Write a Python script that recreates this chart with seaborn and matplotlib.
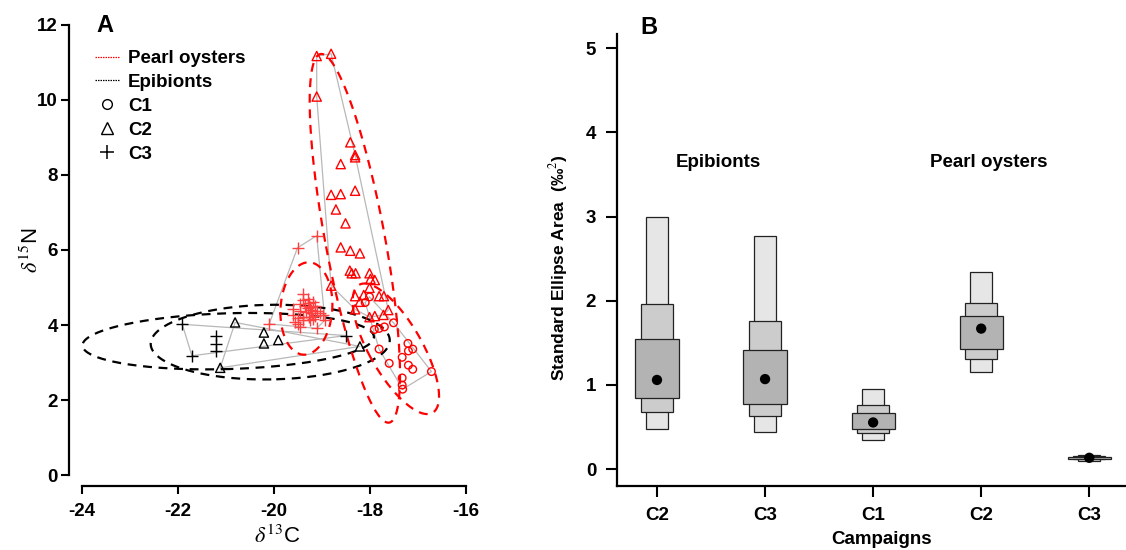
import numpy as np
import matplotlib
matplotlib.use("Agg")
import matplotlib.pyplot as plt
from matplotlib.lines import Line2D
import seaborn as sns

# ---- panel A : isotopic values (d13C, d15N) ----
ep_c2_x = [-20.81, -21.12, -18.21, -20.21, -20.21, -19.91]
ep_c2_y = [4.07, 2.86, 3.43, 3.80, 3.51, 3.60]

ep_c3_x = [-21.91, -21.71, -21.20, -21.20, -21.20, -18.50]
ep_c3_y = [4.02, 3.18, 3.70, 3.50, 3.30, 3.72]

po_c1_x = [-18.01, -18.10, -17.51, -17.91, -17.81, -17.70, -17.81, -17.60, -17.21,
           -17.11, -17.20, -17.33, -17.20, -17.11, -17.33, -17.33, -17.32, -16.72]
po_c1_y = [4.75, 4.60, 4.06, 3.88, 3.91, 3.95, 3.36, 2.98, 3.51,
           3.36, 3.31, 3.14, 2.93, 2.82, 2.59, 2.40, 2.29, 2.76]

po_c2_x = [-19.11, -18.81, -19.11, -18.41, -18.31, -18.31, -18.61, -18.31, -18.81,
           -18.61, -18.71, -18.51, -18.61, -18.41, -18.21, -18.42, -18.38, -18.30,
           -18.01, -17.99, -17.90, -18.01, -18.81, -18.31, -18.13, -17.81, -17.71,
           -18.21, -18.31, -17.62, -17.72, -18.01, -17.90]
po_c2_y = [11.17, 11.23, 10.09, 8.87, 8.53, 8.47, 8.29, 7.58, 7.47,
           7.49, 7.08, 6.71, 6.07, 5.98, 5.91, 5.45, 5.38, 5.38,
           5.38, 5.23, 5.20, 4.99, 5.05, 4.77, 4.80, 4.77, 4.77,
           4.62, 4.42, 4.40, 4.27, 4.21, 4.24]

po_c3_x = [-19.11, -19.51, -20.10, -19.11, -18.97, -19.40, -19.40, -19.30, -19.19,
           -19.28, -19.35, -19.25, -19.15, -19.60, -19.46, -19.33, -19.21, -19.10,
           -19.04, -19.60, -19.49, -19.39, -19.28, -19.18, -19.15, -19.51, -19.56,
           -19.39, -19.25, -19.46, -18.94, -19.30, -19.22, -19.45]
po_c3_y = [6.38, 6.06, 4.03, 3.91, 4.27, 4.84, 4.67, 4.69, 4.62,
           4.58, 4.51, 4.49, 4.50, 4.44, 4.38, 4.36, 4.33, 4.38,
           4.33, 4.27, 4.20, 4.22, 4.21, 4.17, 4.25, 4.04, 4.09,
           4.13, 4.13, 3.96, 4.13, 4.45, 4.41, 4.55]

# ---- panel B : standard ellipse area, posterior intervals ----
campaigns = ["C2", "C3", "C1", "C2", "C3"]
groups = ["Epibionts", "Epibionts", "Pearl oysters", "Pearl oysters", "Pearl oysters"]
sea_mode = [1.06, 1.07, 0.555, 1.67, 0.135]
ci95_lo = [0.48, 0.44, 0.35, 1.16, 0.10]
ci95_hi = [3.00, 2.77, 0.95, 2.34, 0.17]
ci75_lo = [0.68, 0.63, 0.43, 1.31, 0.115]
ci75_hi = [1.96, 1.76, 0.76, 1.98, 0.155]
ci50_lo = [0.85, 0.78, 0.48, 1.43, 0.125]
ci50_hi = [1.55, 1.41, 0.67, 1.82, 0.145]


def convex_hull(xs, ys):
    pts = sorted(set(zip(xs, ys)))

    def cross(o, a, b):
        return (a[0] - o[0]) * (b[1] - o[1]) - (a[1] - o[1]) * (b[0] - o[0])

    lower, upper = [], []
    for p in pts:
        while len(lower) >= 2 and cross(lower[-2], lower[-1], p) <= 0:
            lower.pop()
        lower.append(p)
    for p in reversed(pts):
        while len(upper) >= 2 and cross(upper[-2], upper[-1], p) <= 0:
            upper.pop()
        upper.append(p)
    h = lower[:-1] + upper[:-1]
    h.append(h[0])
    return np.array(h)


def ellipse95(xs, ys, n=300):
    # 95% prediction ellipse from the sample covariance
    xy = np.column_stack([xs, ys])
    mu = xy.mean(axis=0)
    vals, vecs = np.linalg.eigh(np.cov(xy, rowvar=False))
    t = np.linspace(0, 2 * np.pi, n)
    circ = np.column_stack([np.cos(t), np.sin(t)]) * np.sqrt(vals) * np.sqrt(5.991)
    return mu + circ @ vecs.T


sns.set_style("ticks")
plt.rcParams["font.family"] = ["Liberation Sans", "DejaVu Sans"]
plt.rcParams["mathtext.fontset"] = "stix"
plt.rcParams["axes.unicode_minus"] = False
for k in ["text.color", "axes.labelcolor", "xtick.color", "ytick.color", "axes.edgecolor"]:
    plt.rcParams[k] = "black"
narrow = ["Liberation Sans Narrow", "DejaVu Sans Condensed", "Liberation Sans"]

fig = plt.figure(figsize=(11.26, 5.5), dpi=100)
W, H = 1126, 550
axA = fig.add_axes([69 / W, 1 - 486 / H, (478 - 69) / W, (486 - 14) / H])
axB = fig.add_axes([617 / W, 1 - 486 / H, (1126 - 617) / W, (486 - 34) / H])

# ---------- panel A ----------
sets = [
    (ep_c2_x, ep_c2_y, "black", "^"),
    (ep_c3_x, ep_c3_y, "black", "+"),
    (po_c1_x, po_c1_y, "red", "o"),
    (po_c2_x, po_c2_y, "red", "^"),
    (po_c3_x, po_c3_y, "#ff4040", "+"),
]

for xs, ys, col, m in sets:
    h = convex_hull(xs, ys)
    axA.plot(h[:, 0], h[:, 1], color="#b8b8b8", lw=0.9, zorder=1)

for xs, ys, col, m in sets:
    e = ellipse95(xs, ys)
    ecol = "red" if col != "black" else "black"
    axA.plot(e[:, 0], e[:, 1], color=ecol, lw=1.6, ls=(0, (4, 3)), zorder=2)

for xs, ys, col, m in sets:
    if m == "+":
        sns.scatterplot(x=xs, y=ys, marker="+", color=col, s=65, linewidth=1.0,
                        ax=axA, zorder=3)
    else:
        sz = 44 if m == "^" else 30
        sns.scatterplot(x=xs, y=ys, marker=m, facecolor="none", edgecolor=col,
                        color=col, s=sz, linewidth=1.0, ax=axA, zorder=3)

axA.set_xlim(-24.27, -15.75)
axA.set_ylim(-0.29, 12.29)
axA.set_xticks([-24, -22, -20, -18, -16])
axA.set_yticks([0, 2, 4, 6, 8, 10, 12])
axA.spines["top"].set_visible(False)
axA.spines["right"].set_visible(False)
axA.spines["left"].set_bounds(0, 12)
axA.spines["bottom"].set_bounds(-24, -16)
for s in ["left", "bottom"]:
    axA.spines[s].set_linewidth(1.6)
axA.tick_params(axis="both", width=1.5, length=6, labelsize=13.5)
axA.tick_params(axis="x", pad=6)
axA.tick_params(axis="y", pad=2)
for lbl in axA.get_xticklabels() + axA.get_yticklabels():
    lbl.set_fontfamily(narrow)
    lbl.set_fontweight("bold")

axA.set_xlabel(r"$\delta^{13}$C", fontsize=16)
axA.xaxis.set_label_coords(0.509, -0.108)
axA.xaxis.label.set_va("center")
axA.set_ylabel(r"$\delta^{15}$N", fontsize=16)
axA.yaxis.set_label_coords(-0.09, 0.5)
axA.yaxis.label.set_va("center")

axA.text(105 / W, 1 - 26 / H, "A", transform=fig.transFigure, fontsize=17,
         fontweight="bold", ha="center", va="center")

handles = [
    Line2D([0], [0], color="red", lw=0.9, ls=(0, (1.2, 0.8)), label="Pearl oysters"),
    Line2D([0], [0], color="black", lw=0.9, ls=(0, (1.2, 0.8)), label="Epibionts"),
    Line2D([0], [0], marker="o", ls="none", mfc="none", mec="black", ms=7, mew=1, label="C1"),
    Line2D([0], [0], marker="^", ls="none", mfc="none", mec="black", ms=8, mew=1, label="C2"),
    Line2D([0], [0], marker="+", ls="none", color="black", ms=10, mew=1.1, label="C3"),
]
axA.legend(handles=handles, loc="upper left", bbox_to_anchor=(95 / W, 1 - 50 / H),
           bbox_transform=fig.transFigure, frameon=False, borderpad=0,
           borderaxespad=0, handlelength=1.3, handletextpad=0.45, labelspacing=0.36,
           prop={"weight": "bold", "size": 13.5})

# ---------- panel B ----------
pos = np.arange(len(campaigns))
lo95, hi95 = np.array(ci95_lo), np.array(ci95_hi)
lo75, hi75 = np.array(ci75_lo), np.array(ci75_hi)
lo50, hi50 = np.array(ci50_lo), np.array(ci50_hi)
axB.bar(pos, hi95 - lo95, bottom=lo95, width=0.2, color="#e6e6e6",
        edgecolor="#222222", linewidth=0.9, zorder=2)
axB.bar(pos, hi75 - lo75, bottom=lo75, width=0.3, color="#cccccc",
        edgecolor="#222222", linewidth=0.9, zorder=3)
axB.bar(pos, hi50 - lo50, bottom=lo50, width=0.4, color="#b3b3b3",
        edgecolor="#222222", linewidth=0.9, zorder=4)
sns.scatterplot(x=pos, y=sea_mode, color="black", s=55, edgecolor="none",
                ax=axB, zorder=5)

axB.set_xlim(-0.37, 4.34)
axB.set_ylim(-0.2, 5.17)
axB.set_xticks(pos)
axB.set_xticklabels(campaigns)
axB.set_yticks([0, 1, 2, 3, 4, 5])
axB.spines["top"].set_visible(False)
axB.spines["right"].set_visible(False)
for s in ["left", "bottom"]:
    axB.spines[s].set_linewidth(1.6)
axB.tick_params(axis="both", width=1.5, length=8, labelsize=13.5)
axB.tick_params(axis="x", pad=7)
axB.tick_params(axis="y", pad=7)
for lbl in axB.get_xticklabels() + axB.get_yticklabels():
    lbl.set_fontweight("bold")

axB.text(0.57, 3.64, groups[0], fontsize=13.5, fontweight="bold", ha="center", va="center")
axB.text(3.07, 3.64, groups[2], fontsize=13.5, fontweight="bold", ha="center", va="center")

axB.set_xlabel("Campaigns", fontsize=13.5, fontweight="bold")
axB.xaxis.set_label_coords(0.519, -0.119)
axB.xaxis.label.set_va("center")
axB.set_ylabel("Standard Ellipse Area  (\u2030$^{2}$)", fontsize=12.5, fontweight="bold")
axB.yaxis.set_label_coords(-0.114, 0.482)
axB.yaxis.label.set_va("center")

axB.text(649 / W, 1 - 28 / H, "B", transform=fig.transFigure, fontsize=17,
         fontweight="bold", ha="center", va="center")

fig.savefig("out.png", dpi=100)
